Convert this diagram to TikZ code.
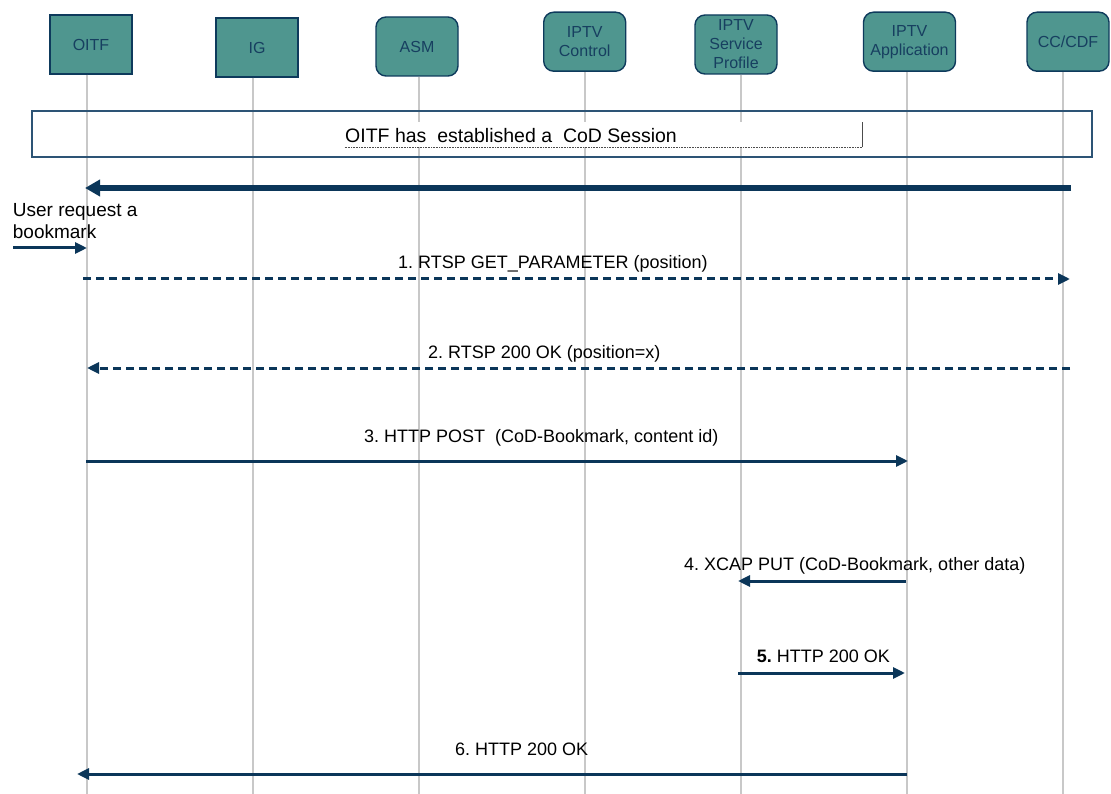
\documentclass[tikz,border=0pt]{standalone}
\usepackage{fontspec}
\setmainfont{Liberation Sans}
\frenchspacing
\usetikzlibrary{arrows.meta,positioning}
\definecolor{boxfill}{HTML}{4F968F}
\definecolor{boxline}{HTML}{0E3A5C}
\definecolor{boxtext}{HTML}{173F60}
\definecolor{msgline}{HTML}{0B3659}
\definecolor{lifegray}{HTML}{C8C8C8}
\definecolor{sessline}{HTML}{2D5475}

\begin{document}
\begin{tikzpicture}[x=1pt,y=-1pt,
  entity/.style={draw=boxline,fill=boxfill,line width=1.4pt,text=boxtext,minimum width=82pt,minimum height=59pt,inner sep=0pt,align=center,font=\fontsize{16}{19}\selectfont},
  roundentity/.style={entity,rounded corners=10pt},
  lifeline/.style={lifegray,line width=2pt},
  msg/.style={msgline,line width=3pt,-{Triangle[length=12pt,width=11pt]}},
  dashmsg/.style={msg,dash pattern=on 8pt off 5pt},
  msglabel/.style={anchor=base west,inner sep=0pt,font=\fontsize{18}{21}\selectfont}]
\useasboundingbox (0,0) rectangle (1111,794);

% entities
\node[entity] (oitf) at (91,44.5) {OITF};
\node[entity] (ig) at (257,47.5) {IG};
\node[roundentity] (asm) at (417,46.5) {ASM};
\node[roundentity] (ctrl) at (584.7,41.7) {IPTV\\Control};
\node[roundentity] (prof) at (736,44.5) {IPTV\\Service\\Profile};
\node[roundentity,minimum width=92pt] (app) at (909.5,41.7) {IPTV\\Application};
\node[roundentity] (cdf) at (1068,41.7) {CC/CDF};

% lifelines
\foreach \n/\x in {oitf/87,ig/252.7,asm/418.7,ctrl/585,prof/741,app/907,cdf/1063.3}
  \coordinate (\n-end) at (\x,794);
\foreach \n in {oitf,ig,asm,ctrl,prof,app,cdf}
  \draw[lifeline] (\n.south -| \n-end) -- (\n-end);

% session
\node[draw=sessline,line width=1.5pt,minimum width=1060pt,minimum height=46pt,inner sep=0pt] (session) at (562,134) {};
\node[fill=white,inner sep=0pt,minimum width=517pt,minimum height=25pt] (sessbox) at (603.3,134.5) {};
\draw[black!70,line width=0.6pt,densely dotted] (sessbox.south west) -- (sessbox.south east);
\draw[black!70,line width=0.6pt] (sessbox.south east) -- (sessbox.north east);
\node[anchor=base west,inner sep=0pt,font=\fontsize{19.5}{22}\selectfont] (sesstext) at (345,143) {OITF has\ \ established a\ \ CoD Session};

\coordinate (cod-from) at (1071,188);
\coordinate (cod-to) at (85,188);
\draw[msgline,line width=6.7pt,-{Triangle[length=15pt,width=16pt]}] (cod-from) -- (cod-to);

% user trigger
\node[anchor=base west,inner sep=0pt,align=left,font=\fontsize{19}{22}\selectfont] (user) at (12.7,239) {User request a\\bookmark};
\coordinate (user-from) at (13,248);
\coordinate (user-to) at (87,248);
\draw[msg] (user-from) -- (user-to);

% messages
\coordinate (m1-from) at (83,279);   \coordinate (m1-to) at (1070,279);
\coordinate (m2-from) at (1070,368); \coordinate (m2-to) at (87,368);
\coordinate (m3-from) at (86,461);   \coordinate (m3-to) at (908,461);
\coordinate (m4-from) at (906,581);  \coordinate (m4-to) at (738,581);
\coordinate (m5-from) at (738,673);  \coordinate (m5-to) at (905,673);
\coordinate (m6-from) at (907,774);  \coordinate (m6-to) at (77,774);

\draw[dashmsg] (m1-from) -- (m1-to);
\draw[dashmsg] (m2-from) -- (m2-to);
\draw[msg] (m3-from) -- (m3-to);
\draw[msg] (m4-from) -- (m4-to);
\draw[msg] (m5-from) -- (m5-to);
\draw[msg] (m6-from) -- (m6-to);

\node[msglabel] (l1) at (398,269) {1. RTSP GET\_PARAMETER (position)};
\node[msglabel] (l2) at (428,359) {2. RTSP 200 OK (position=x)};
\node[msglabel] (l3) at (364,442.3) {3. HTTP POST\ \ (CoD-Bookmark, content id)};
\node[msglabel] (l4) at (684,570.7) {4. XCAP PUT (CoD-Bookmark, other data)};
\node[msglabel] (l5) at (756.7,662.7) {\textbf{5.} HTTP 200 OK};
\node[msglabel] (l6) at (455,755) {6. HTTP 200 OK};
\end{tikzpicture}
\end{document}
